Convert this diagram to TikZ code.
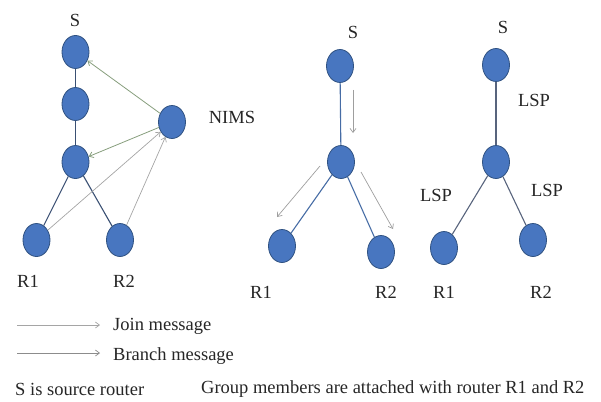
\documentclass[tikz,border=0pt]{standalone}
\usepackage{fontspec}
\setmainfont{Liberation Serif}
\usepackage{tikz}
\usetikzlibrary{shapes.geometric,arrows.meta}
\definecolor{routerfill}{RGB}{72,118,192}
\definecolor{routerline}{RGB}{48,82,130}
\definecolor{linkcol}{RGB}{58,80,115}
\definecolor{treecol}{RGB}{70,108,165}
\definecolor{lspcol}{RGB}{88,100,125}
\definecolor{joincol}{RGB}{165,165,165}
\definecolor{branchcol}{RGB}{135,158,125}
\tikzset{
  router/.style={ellipse,draw=routerline,fill=routerfill,line width=0.8pt,
    minimum width=27pt,minimum height=33pt,inner sep=0pt},
  lbl/.style={font=\fontsize{18.5}{20}\selectfont,text=black!85,inner sep=1pt},
  link/.style={draw=linkcol,line width=1.1pt},
  joinmsg/.style={-{Straight Barb[length=4pt,width=6pt]},draw=joincol,line width=0.7pt},
  branchmsg/.style={-{Straight Barb[length=4pt,width=6pt]},draw=branchcol,line width=0.8pt}
}
\begin{document}
\begin{tikzpicture}[x=1pt,y=-1pt]
  \useasboundingbox (0,0) rectangle (601,401); % page
  % NIMS tree
  \node[router] (s1) at (75.5,52) {};
  \node[router] (a1) at (75.5,104) {};
  \node[router] (b1) at (75.5,162) {};
  \node[router] (nims) at (172,122) {};
  \node[router] (r11) at (36.5,240) {};
  \node[router] (r21) at (120,240) {};
  \node[lbl] (ls1) at (75,20) {S};
  \node[lbl] (lnims) at (232,117) {NIMS};
  \node[lbl] (lr11) at (28,281) {R1};
  \node[lbl] (lr21) at (124,281) {R2};
  \draw[link] (s1) -- (a1) -- (b1); % trunk
  \draw[link] (b1) -- (r11);
  \draw[link] (b1) -- (r21);
  \draw[branchmsg] (nims) -- (s1); % branch messages
  \draw[branchmsg] (nims) -- (b1);
  \draw[joinmsg] (r11) -- (nims); % join messages
  \draw[joinmsg] (r21) -- (nims);
  % branch tree
  \node[router] (s2) at (340,66) {};
  \node[router] (m2) at (341,162) {};
  \node[router] (r12) at (282,246) {};
  \node[router] (r22) at (381,252) {};
  \node[lbl] (ls2) at (353,32) {S};
  \node[lbl] (lr12) at (261,292) {R1};
  \node[lbl] (lr22) at (386,292) {R2};
  \draw[link,draw=treecol] (s2) -- (m2);
  \draw[link,draw=treecol] (m2) -- (r12);
  \draw[link,draw=treecol] (m2) -- (r22);
  \coordinate (d1) at (353,90);
  \coordinate (d2) at (353,133);
  \coordinate (e1) at (320,166);
  \coordinate (e2) at (277,217);
  \coordinate (f1) at (361,172);
  \coordinate (f2) at (393,229);
  \draw[joinmsg,draw=black!38] (d1) -- (d2);
  \draw[joinmsg,draw=black!38] (e1) -- (e2);
  \draw[joinmsg,draw=black!38] (f1) -- (f2);
  % LSP tree
  \node[router] (s3) at (496,65) {};
  \node[router] (m3) at (496,162) {};
  \node[router] (r13) at (444,248) {};
  \node[router] (r23) at (533,240) {};
  \node[lbl] (ls3) at (503,27) {S};
  \node[lbl] (lr13) at (444,292) {R1};
  \node[lbl] (lr23) at (541,292) {R2};
  \draw[link,draw=lspcol] (s3) -- (m3);
  \draw[link,draw=lspcol] (m3) -- (r13);
  \draw[link,draw=lspcol] (m3) -- (r23);
  \node[lbl] (lsp1) at (534,100) {LSP};
  \node[lbl] (lsp2) at (436,195) {LSP};
  \node[lbl] (lsp3) at (547,190) {LSP};
  % legend
  \coordinate (j1) at (17,325);
  \coordinate (j2) at (100,325);
  \coordinate (b1l) at (17,353);
  \coordinate (b2l) at (100,353);
  \draw[joinmsg] (j1) -- (j2);
  \draw[joinmsg,draw=black!45] (b1l) -- (b2l);
  \node[lbl,anchor=west] (ljoin) at (112,326) {Join message};
  \node[lbl,anchor=west] (lbranch) at (112,356) {Branch message};
  \node[lbl,anchor=west] (lsrc) at (14,389) {S is source router};
  \node[lbl,anchor=west] (lgrp) at (200,389) {Group members are attached with router R1 and R2};
\end{tikzpicture}
\end{document}
